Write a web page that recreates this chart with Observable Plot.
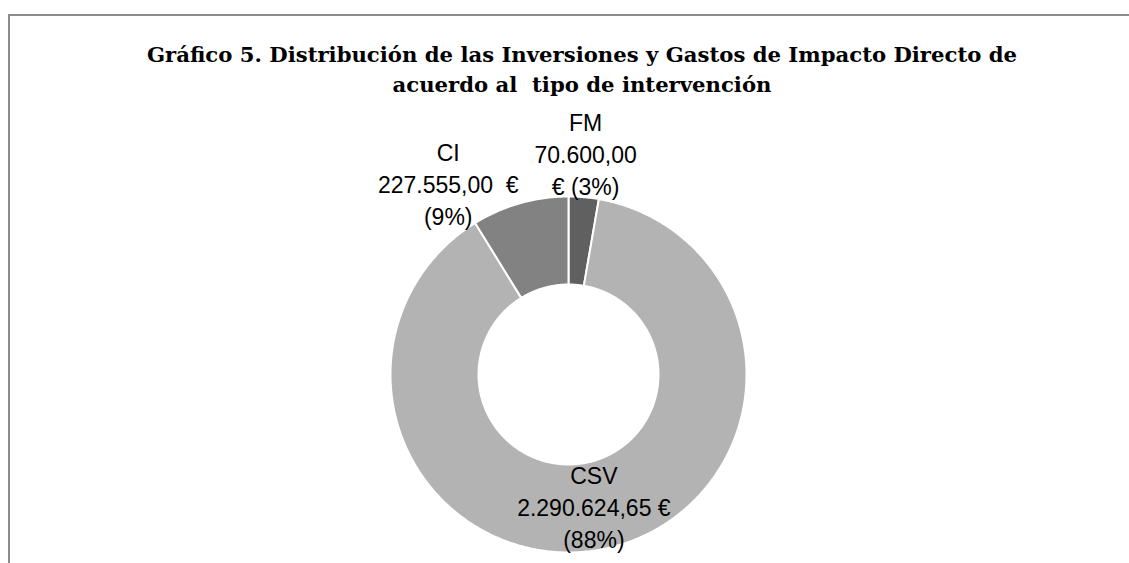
<!DOCTYPE html>
<html>
<head>
<meta charset="utf-8">
<script src="https://cdn.jsdelivr.net/npm/d3@7"></script>
<script src="https://cdn.jsdelivr.net/npm/@observablehq/plot@0.6"></script>
<style>
  html, body { margin: 0; padding: 0; background: #fff; }
  #page { position: relative; width: 1129px; height: 563px; overflow: hidden; }
  #frame { position: absolute; left: 8px; top: 14px; right: -20px; bottom: -20px;
           border-top: 2px solid #8c8c8c; border-left: 2px solid #8c8c8c; }
  #title { position: absolute; left: 0; top: 40px; width: 1164px; text-align: center;
           font-family: "DejaVu Serif", serif; font-weight: bold; font-size: 21.2px;
           line-height: 30px; color: #000; white-space: pre; }
  #chart { position: absolute; left: 0; top: 100px; }
</style>
</head>
<body>
<div id="page">
  <div id="frame"></div>
  <div id="title">Gráfico 5. Distribución de las Inversiones y Gastos de Impacto Directo de
acuerdo al  tipo de intervención</div>
  <div id="chart"></div>
</div>
<script>
// ---- data ----
const categories = ["FM", "CSV", "CI"];
const amounts = [70600.00, 2290624.65, 227555.00];
const colors = ["#606060", "#b3b3b3", "#828282"];

// ---- layout (not data) ----
const W = 1129, H = 463;
const cx = 568, cy = 274;          // donut centre in svg pixels
const rOuter = 178, rInner = 90;
// label placement: radius from centre and horizontal nudge (Excel "best fit")
const labelRadius = { FM: 223, CSV: 134, CI: 199 };
const labelNudge = { FM: -2, CSV: 0, CI: -66 };
// where Excel wrapped each label
const wrapBeforeEuro = { FM: true, CSV: false, CI: false };

const loc = d3.formatLocale({ decimal: ",", thousands: ".", grouping: [3], currency: ["", " €"] });
const fmtNum = loc.format(",.2f");
const fmtPct = d3.format(".0%");

const total = d3.sum(amounts);
const rows = categories.map((c, i) => ({ name: c, value: amounts[i] }));
const arcs = d3.pie().sort(null).value(d => d.value).startAngle(0).endAngle(2 * Math.PI)(rows);

// polygon points for each ring segment (angles clockwise from 12 o'clock, y up)
const pts = [];
for (const a of arcs) {
  const n = Math.max(4, Math.ceil((a.endAngle - a.startAngle) / 0.01));
  for (let k = 0; k <= n; k++) {
    const t = a.startAngle + (a.endAngle - a.startAngle) * k / n;
    pts.push({ name: a.data.name, x: rOuter * Math.sin(t), y: rOuter * Math.cos(t) });
  }
  for (let k = n; k >= 0; k--) {
    const t = a.startAngle + (a.endAngle - a.startAngle) * k / n;
    pts.push({ name: a.data.name, x: rInner * Math.sin(t), y: rInner * Math.cos(t) });
  }
  const t0 = a.startAngle;
  pts.push({ name: a.data.name, x: rOuter * Math.sin(t0), y: rOuter * Math.cos(t0) });
}

const labels = arcs.map(a => {
  const name = a.data.name;
  const mid = (a.startAngle + a.endAngle) / 2;
  const r = labelRadius[name];
  const num = fmtNum(a.data.value);
  const pct = "(" + fmtPct(a.data.value / total) + ")";
  const text = wrapBeforeEuro[name]
    ? `${name}\n${num}\n€ ${pct}`
    : `${name}\n${num}${name === "CI" ? "  " : " "}€\n${pct}`;
  return { name, text, x: r * Math.sin(mid) + labelNudge[name], y: r * Math.cos(mid) };
});

const chart = Plot.plot({
  width: W,
  height: H,
  margin: 0,
  x: { domain: [-cx, W - cx], axis: null },
  y: { domain: [cy - H, cy], axis: null },
  color: { domain: categories, range: colors },
  marks: [
    Plot.line(pts, { x: "x", y: "y", z: "name", fill: "name", stroke: "white", strokeWidth: 2, curve: "linear-closed" }),
    Plot.text(labels, {
      x: "x", y: "y", text: "text", fill: "#000",
      fontSize: 23, lineHeight: 1.39, textAnchor: "middle", lineAnchor: "middle",
      fontFamily: "Liberation Sans, Arial, sans-serif"
    })
  ],
  style: { background: "transparent", overflow: "visible" }
});
document.getElementById("chart").appendChild(chart);
</script>
</body>
</html>
